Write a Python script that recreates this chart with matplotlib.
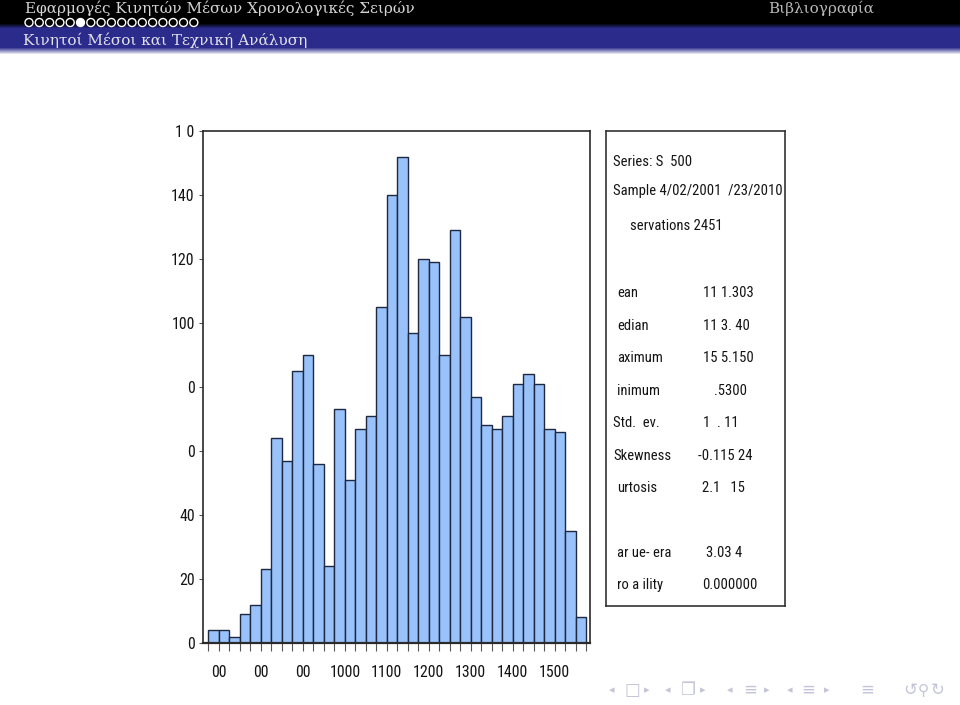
import os
import numpy as np
import matplotlib
matplotlib.use("Agg")
import matplotlib.pyplot as plt
from matplotlib.colors import to_rgb
from matplotlib.patches import Circle
from matplotlib import font_manager as fm

# histogram data (bin width 25, first bin starts at 675)
bin_start = 675
bin_width = 25
counts = [4, 4, 2, 9, 12, 23, 64, 57, 85, 90, 56, 24, 73, 51, 67, 71, 105, 140,
          152, 97, 120, 119, 90, 129, 102, 77, 68, 67, 71, 81, 84, 81, 67, 66, 35, 8]
xtick_vals = [700, 800, 900, 1000, 1100, 1200, 1300, 1400, 1500]
xtick_labels = ["00", "00", "00", "1000", "1100", "1200", "1300", "1400", "1500"]
ytick_vals = [0, 20, 40, 60, 80, 100, 120, 140, 160]
ytick_labels = ["0", "20", "40", "0", "0", "100", "120", "140", "1 0"]

stat_head = ["Series: S  500", "Sample 4/02/2001  /23/2010", "servations 2451"]
stat_names = ["ean", "edian", "aximum", "inimum", "Std.  ev.", "Skewness", "urtosis"]
stat_values = ["11 1.303", "11 3. 40", "15 5.150", ".5300", "1  . 11", "-0.115 24", "2.1   15"]
jb_names = ["ar ue- era", "ro a ility"]
jb_values = ["3.03 4", "0.000000"]

title = "Εφαρμογές Κινητών Μέσων Χρονολογικές Σειρών"
section = "Βιβλιογραφία"
subsection = "Κινητοί Μέσοι και Τεχνική Ανάλυση"

W, H = 960, 705
fig = plt.figure(figsize=(W / 100, H / 100), dpi=100)
fig.patch.set_facecolor("white")
renderer = fig.canvas.get_renderer()


def fx(px):
    return px / W


def fy(py):
    return 1 - py / H


def narrow_font():
    # look for a condensed sans face, like the EViews output font
    bad = ("bold", "italic", "oblique", "light", "thin", "medium", "black",
           "semi", "extra", "heavy")
    prefs = ["liberationsansnarrow", "arialnarrow", "robotocondensed",
             "opensans_condensed", "opensanscondensed", "notosanscondensed",
             "notosans-condensed", "dejavusanscondensed", "condensed", "narrow"]
    found = []
    for e in fm.fontManager.ttflist:
        b = os.path.basename(e.fname).lower()
        if any(k in b for k in bad):
            continue
        for rank, p in enumerate(prefs):
            if p in b:
                found.append((rank, e.fname))
                break
    if found:
        found.sort()
        return fm.FontProperties(fname=found[0][1])
    return fm.FontProperties(family="Liberation Sans")


def fit_size(prop, sample, target_w, max_size):
    t = fig.text(0, 0, sample, fontproperties=prop, fontsize=20)
    w = t.get_window_extent(renderer).width
    t.remove()
    return min(20 * target_w / w, max_size)


eview = narrow_font()
stat_size = fit_size(eview, stat_head[1], 168, 17)
tick_size = fit_size(eview, "1500", 24, 16.5) * 1.3

# ---- header bands (black / blue with soft gradients)
hdr = fig.add_axes([0, fy(56), 1, 56 / H])
hdr.axis("off")
black = np.array([0.0, 0.0, 0.0])
blue = np.array(to_rgb("#2b2b8c"))
white = np.array([1.0, 1.0, 1.0])
rows = []
for r in range(56):
    if r < 23:
        c = black
    elif r < 28:
        t = (r - 23) / 5
        c = black * (1 - t) + blue * t
    elif r < 47:
        c = blue
    else:
        t = min((r - 47) / 7, 1)
        c = blue * (1 - t) + white * t
    rows.append(c)
grad = np.array(rows)[:, None, :]
hdr.imshow(grad, aspect="auto", extent=[0, 1, 0, 1])

serif = fm.FontProperties(family="DejaVu Serif")
head_size = fit_size(serif, title, 395, 11)
fig.text(fx(25), fy(8), title, fontproperties=serif, fontsize=head_size,
         color="#d4d4d4", va="center", ha="left")
fig.text(fx(768), fy(8), section, fontproperties=serif, fontsize=head_size,
         color="#b8b8b8", va="center", ha="left")
fig.text(fx(23), fy(40), subsection, fontproperties=serif, fontsize=head_size,
         color="#e2e2e8", va="center", ha="left")

for i in range(17):
    fig.patches.append(Circle((29 + 10.3 * i, H - 22.5), 4.0, transform=None,
                              facecolor="white" if i == 5 else "black",
                              edgecolor="white", linewidth=1.0))

# ---- histogram
ax = fig.add_axes([fx(203), fy(643), fx(590) - fx(203), (643 - 131) / H])
edges = bin_start + bin_width * np.arange(len(counts) + 1)
ax.bar(edges[:-1], counts, width=bin_width, align="edge",
       color="#99c2fa", edgecolor="#1e2840", linewidth=1.0)
ax.set_xlim(662, 1584)
ax.set_ylim(0, 160)
ax.set_xticks(xtick_vals)
ax.set_xticklabels(xtick_labels)
ax.set_xticks(edges, minor=True)
ax.set_yticks(ytick_vals)
ax.set_yticklabels(ytick_labels)
for s in ax.spines.values():
    s.set_color("#2a2a2a")
    s.set_linewidth(1.2)
ax.spines["bottom"].set_linewidth(1.6)
ax.tick_params(axis="x", which="both", length=6, width=0.8, color="#555555")
ax.tick_params(axis="x", which="major", pad=10)
ax.tick_params(axis="y", length=3, width=0.8, pad=3, color="#555555")
for lab in ax.get_xticklabels() + ax.get_yticklabels():
    lab.set_fontproperties(eview)
    lab.set_fontsize(tick_size)
    lab.set_color("#141414")

# ---- statistics box
box = fig.add_axes([fx(606), fy(606), fx(785) - fx(606), (606 - 131) / H])
box.set_xticks([])
box.set_yticks([])
for s in box.spines.values():
    s.set_color("#333333")
    s.set_linewidth(1.2)

tkw = dict(fontproperties=eview, fontsize=stat_size, color="#141414",
           va="center_baseline", ha="left")
fig.text(fx(613), fy(160), stat_head[0], **tkw)
fig.text(fx(613), fy(190), stat_head[1], **tkw)
fig.text(fx(630), fy(224), stat_head[2], **tkw)
name_x = [617, 617, 617, 617, 613, 613, 617]
val_x = [703, 703, 703, 714, 703, 698, 702]
for i, (nm, vl) in enumerate(zip(stat_names, stat_values)):
    yy = 292 + 32.4 * i
    fig.text(fx(name_x[i]), fy(yy), nm, **tkw)
    fig.text(fx(val_x[i]), fy(yy), vl, **tkw)
for i, (nm, vl) in enumerate(zip(jb_names, jb_values)):
    yy = 551.5 + 32 * i
    fig.text(fx(617), fy(yy), nm, **tkw)
    fig.text(fx(706 if i == 0 else 702), fy(yy), vl, **tkw)

# ---- beamer navigation symbols
nav = "#c4c4d8"
nkw = dict(family="DejaVu Sans", color=nav, va="center", ha="center")
nav_items = [(612, "◂", 8), (632, "□", 12), (647, "▸", 8),
             (668, "◂", 8), (687, "❐", 12), (703, "▸", 8),
             (730, "◂", 8), (750, "≡", 12), (767, "▸", 8),
             (790, "◂", 8), (808, "≡", 12), (827, "▸", 8),
             (867, "≡", 12), (910, "↺", 12), (923, "⚲", 11), (938, "↻", 12)]
for xp, ch, fs in nav_items:
    fig.text(fx(xp), fy(690), ch, fontsize=fs, **nkw)

fig.savefig("out.png", dpi=100)
